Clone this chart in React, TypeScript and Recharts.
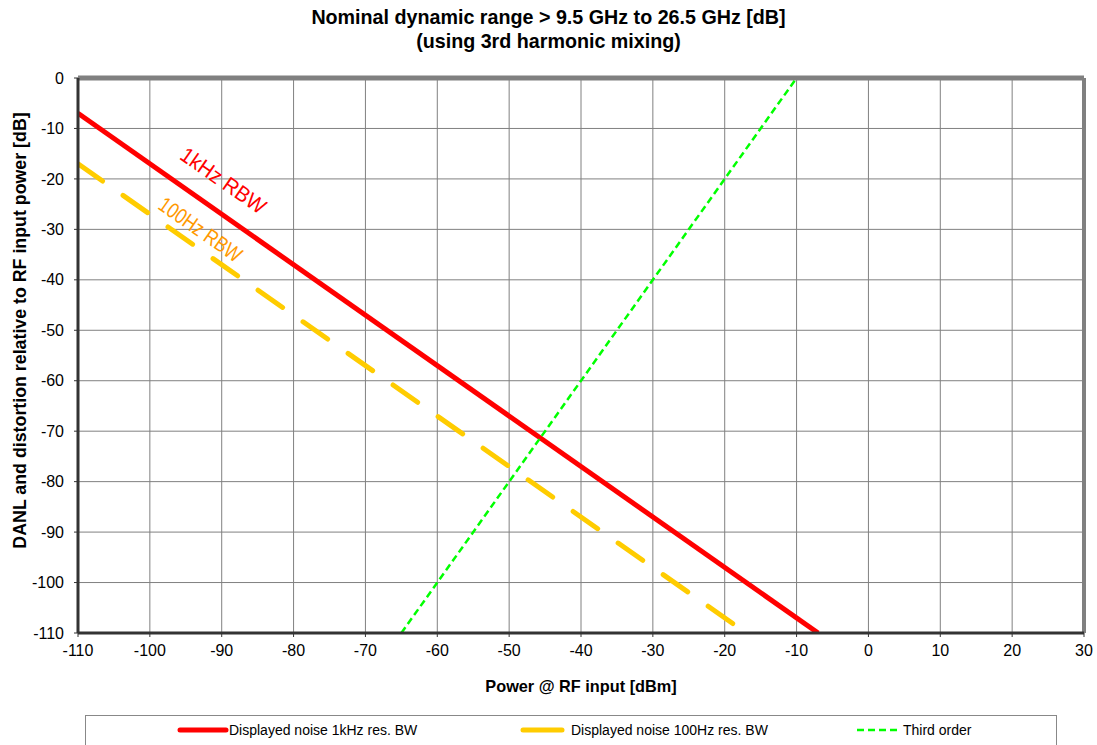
import React from "react";
import {
  LineChart,
  Line,
  XAxis,
  YAxis,
  CartesianGrid,
  ReferenceLine,
  ReferenceDot,
  Label,
} from "recharts";

// power @ RF input [dBm]
const xTicks = [-110, -100, -90, -80, -70, -60, -50, -40, -30, -20, -10, 0, 10, 20, 30];
const yTicks = [0, -10, -20, -30, -40, -50, -60, -70, -80, -90, -100, -110];

const noise1kX = [-110, -7];
const noise1kY = [-7, -110];
const noise100X = [-110, -18.5];
const noise100Y = [-17, -108.5];
const thirdX = [-65, -10];
const thirdY = [-110, 0];

const noteText = ["1kHz RBW", "100Hz RBW"];
const noteX = [-89.8, -93];
const noteY = [-20.4, -30.1];
const noteColor = ["#FF0000", "#FF9900"];
const noteLen = [99, 96];

const zip = (xs: number[], ys: number[]) => xs.map((x, i) => ({ x, y: ys[i] }));

const FONT = "'Liberation Sans', Arial, sans-serif";

const legendItems = [
  { name: "Displayed noise 1kHz res. BW", color: "#FF0000", dash: "", w: 5, lineX: 180, lineW: 46, gap: 3 },
  { name: "Displayed noise 100Hz res. BW", color: "#FFCC00", dash: "", w: 5, lineX: 523, lineW: 39, gap: 9 },
  { name: "Third order", color: "#00FF00", dash: "7 4", w: 2.5, lineX: 857, lineW: 42, gap: 4 },
];

export default function App() {
  return (
    <div
      style={{
        position: "absolute",
        left: 0,
        top: 0,
        width: 1097,
        height: 745,
        background: "#fff",
        fontFamily: FONT,
        overflow: "hidden",
      }}
    >
      <div
        style={{
          position: "absolute",
          top: 5,
          left: 0,
          width: 1097,
          textAlign: "center",
          fontWeight: "bold",
          fontSize: 19.7,
          lineHeight: "24px",
        }}
      >
        Nominal dynamic range &gt; 9.5 GHz to 26.5 GHz [dB]
        <br />
        (using 3rd harmonic mixing)
      </div>
      <LineChart
        width={1097}
        height={745}
        margin={{ top: 78, right: 13, bottom: 72, left: 18 }}
        style={{ position: "absolute", left: 0, top: 0 }}
      >
        <CartesianGrid stroke="#808080" strokeWidth={1} />
        <XAxis
          type="number"
          dataKey="x"
          domain={[-110, 30]}
          ticks={xTicks}
          allowDataOverflow
          height={40}
          tickSize={4}
          tickMargin={8}
          tick={{ fill: "#000", fontSize: 16, fontFamily: FONT }}
          axisLine={{ stroke: "#333", strokeWidth: 3 }}
          tickLine={{ stroke: "#333" }}
        >
          <Label
            content={(p: any) => {
              const vb = p.viewBox;
              return (
                <text
                  x={vb.x + vb.width / 2}
                  y={vb.y + 59}
                  textAnchor="middle"
                  fontWeight="bold"
                  fontSize={16.3}
                  fontFamily={FONT}
                  fill="#000"
                >
                  Power @ RF input [dBm]
                </text>
              );
            }}
          />
        </XAxis>
        <YAxis
          type="number"
          dataKey="y"
          domain={[-110, 0]}
          ticks={yTicks}
          allowDataOverflow
          width={60}
          tickSize={4}
          tickMargin={10}
          tick={{ fill: "#000", fontSize: 16, fontFamily: FONT }}
          axisLine={{ stroke: "#333", strokeWidth: 3 }}
          tickLine={{ stroke: "#333" }}
        >
          <Label
            content={(p: any) => {
              const vb = p.viewBox;
              const cx = vb.x + 8;
              const cy = vb.y + vb.height / 2 - 25;
              return (
                <text
                  x={cx}
                  y={cy}
                  transform={`rotate(-90 ${cx} ${cy})`}
                  textAnchor="middle"
                  fontWeight="bold"
                  fontSize={17.8}
                  fontFamily={FONT}
                  fill="#000"
                >
                  DANL and distortion relative to RF input power [dB]
                </text>
              );
            }}
          />
        </YAxis>
        <ReferenceLine y={0} stroke="#808080" strokeWidth={5} />
        <ReferenceLine x={30} stroke="#808080" strokeWidth={4} />
        <Line
          data={zip(noise1kX, noise1kY)}
          dataKey="y"
          stroke="#FF0000"
          strokeWidth={5}
          dot={false}
          activeDot={false}
          isAnimationActive={false}
        />
        <Line
          data={zip(noise100X, noise100Y)}
          dataKey="y"
          stroke="#FFCC00"
          strokeWidth={5}
          strokeDasharray="30 25"
          strokeLinecap="round"
          dot={false}
          activeDot={false}
          isAnimationActive={false}
        />
        <Line
          data={zip(thirdX, thirdY)}
          dataKey="y"
          stroke="#00FF00"
          strokeWidth={2.5}
          strokeDasharray="7 4"
          dot={false}
          activeDot={false}
          isAnimationActive={false}
        />
        {noteText.map((t, i) => (
          <ReferenceDot
            key={t}
            x={noteX[i]}
            y={noteY[i]}
            r={0}
            fill="none"
            stroke="none"
            label={{
              content: (p: any) => {
                const vb = p.viewBox;
                const cx = vb.x + (vb.width || 0) / 2;
                const cy = vb.y + (vb.height || 0) / 2;
                return (
                  <text
                    x={cx}
                    y={cy}
                    transform={`rotate(35 ${cx} ${cy})`}
                    textAnchor="middle"
                    dominantBaseline="central"
                    fontSize={21.5}
                    fontFamily={FONT}
                    textLength={noteLen[i]}
                    lengthAdjust="spacingAndGlyphs"
                    fill={noteColor[i]}
                  >
                    {t}
                  </text>
                );
              },
            }}
          />
        ))}
      </LineChart>
      <div
        style={{
          position: "absolute",
          left: 85,
          top: 715,
          width: 972,
          height: 60,
          border: "1px solid #888",
          boxSizing: "border-box",
        }}
      />
      {legendItems.map((it) => (
        <div key={it.name}>
          <svg
            style={{ position: "absolute", left: it.lineX - 3, top: 725 }}
            width={it.lineW + 6}
            height={10}
          >
            <line
              x1={3}
              x2={it.lineW + 3}
              y1={5}
              y2={5}
              stroke={it.color}
              strokeWidth={it.w}
              strokeLinecap={it.dash ? "butt" : "round"}
              strokeDasharray={it.dash || undefined}
            />
          </svg>
          <div
            style={{
              position: "absolute",
              left: it.lineX + it.lineW + it.gap,
              top: 722,
              fontSize: 14,
              lineHeight: "16px",
              whiteSpace: "nowrap",
            }}
          >
            {it.name}
          </div>
        </div>
      ))}
    </div>
  );
}
